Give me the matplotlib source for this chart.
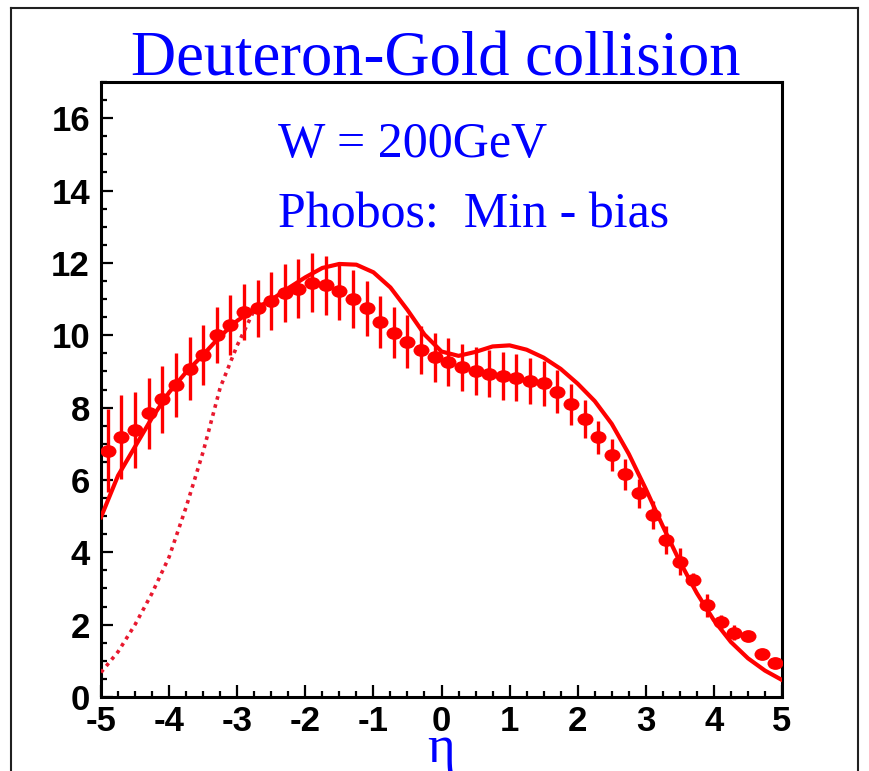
import matplotlib
matplotlib.use("Agg")
import matplotlib.pyplot as plt
from matplotlib.path import Path
from matplotlib.transforms import Affine2D
from matplotlib.lines import Line2D
from matplotlib.ticker import MultipleLocator

plt.rcParams["axes.unicode_minus"] = False

# ---- data ----
eta_data = [-4.9, -4.7, -4.5, -4.3, -4.1, -3.9, -3.7, -3.5, -3.3, -3.1,
            -2.9, -2.7, -2.5, -2.3, -2.1, -1.9, -1.7, -1.5, -1.3, -1.1,
            -0.9, -0.7, -0.5, -0.3, -0.1, 0.1, 0.3, 0.5, 0.7, 0.9,
            1.1, 1.3, 1.5, 1.7, 1.9, 2.1, 2.3, 2.5, 2.7, 2.9,
            3.1, 3.3, 3.5, 3.7, 3.9, 4.1, 4.3, 4.5, 4.7, 4.9]
dndeta_data = [6.81, 7.19, 7.38, 7.84, 8.23, 8.62, 9.08, 9.45, 10.00, 10.28,
               10.64, 10.74, 10.94, 11.17, 11.29, 11.45, 11.38, 11.23, 11.00, 10.74,
               10.36, 10.07, 9.82, 9.59, 9.39, 9.27, 9.11, 9.01, 8.94, 8.88,
               8.82, 8.74, 8.67, 8.44, 8.09, 7.68, 7.18, 6.69, 6.16, 5.63,
               5.03, 4.34, 3.74, 3.23, 2.54, 2.08, 1.78, 1.69, 1.19, 0.93]
dndeta_err = [1.15, 1.17, 1.05, 0.98, 0.93, 0.88, 0.88, 0.82, 0.78, 0.83,
              0.78, 0.80, 0.80, 0.81, 0.82, 0.81, 0.81, 0.80, 0.79, 0.76,
              0.72, 0.71, 0.73, 0.66, 0.67, 0.66, 0.66, 0.67, 0.66, 0.66,
              0.65, 0.64, 0.62, 0.59, 0.56, 0.53, 0.46, 0.43, 0.43, 0.40,
              0.38, 0.39, 0.37, 0.20, 0.32, 0.20, 0.20, 0.10, 0.05, 0.05]

eta_model = [-5.0, -4.75, -4.5, -4.25, -4.0, -3.75, -3.5, -3.25, -3.0, -2.75,
             -2.5, -2.25, -2.0, -1.75, -1.5, -1.25, -1.0, -0.75, -0.5, -0.25,
             0.0, 0.25, 0.5, 0.75, 1.0, 1.25, 1.5, 1.75, 2.0, 2.25,
             2.5, 2.75, 3.0, 3.25, 3.5, 3.75, 4.0, 4.25, 4.5, 4.75, 5.0]
dndeta_model = [4.97, 6.12, 6.92, 7.72, 8.42, 8.98, 9.46, 9.97, 10.40, 10.72,
                10.98, 11.30, 11.60, 11.86, 11.97, 11.95, 11.74, 11.32, 10.70, 10.02,
                9.55, 9.43, 9.54, 9.69, 9.72, 9.60, 9.38, 9.07, 8.66, 8.18,
                7.55, 6.72, 5.75, 4.72, 3.74, 2.87, 2.12, 1.52, 1.07, 0.73, 0.47]

eta_dotted = [-5.0, -4.75, -4.5, -4.25, -4.0, -3.75, -3.5, -3.25, -3.0, -2.85, -2.75]
dndeta_dotted = [0.68, 1.25, 2.0, 2.87, 3.87, 5.25, 6.78, 8.55, 9.72, 10.30, 10.70]

xticks = [-5, -4, -3, -2, -1, 0, 1, 2, 3, 4, 5]
yticks = [0, 2, 4, 6, 8, 10, 12, 14, 16]

title = "Deuteron-Gold collision"
label1 = "W = 200GeV"
label2 = "Phobos:  Min - bias"
xlabel = "\u03b7"

# ---- figure ----
W, H = 870, 771
fig = plt.figure(figsize=(W / 100, H / 100), dpi=100)
ax = fig.add_axes([101 / W, 1 - 697 / H, 681 / W, 615 / H])

red = "#ff0000"
ellipse = Path.unit_circle().transformed(Affine2D().scale(1.0, 0.8))

ax.errorbar(eta_data, dndeta_data, yerr=dndeta_err, fmt="none",
            ecolor=red, elinewidth=2.4, capsize=0, zorder=2)
ax.plot(eta_model, dndeta_model, color=red, lw=3.0, zorder=3,
        solid_joinstyle="round")
ax.plot(eta_dotted, dndeta_dotted, color="#e8182e", lw=2.6,
        linestyle=(0, (1, 1.3)), zorder=3)
ax.plot(eta_data, dndeta_data, linestyle="none", marker=ellipse,
        markersize=11.5, color=red, markeredgewidth=0, zorder=4)

ax.set_xlim(-5, 5)
ax.set_ylim(0, 17)
ax.set_xticks(xticks)
ax.set_yticks(yticks)
ax.xaxis.set_minor_locator(MultipleLocator(0.25))
ax.yaxis.set_minor_locator(MultipleLocator(0.5))
ax.tick_params(which="both", direction="in", top=False, right=False,
               width=1.6, color="black")
ax.tick_params(which="major", length=8.5)
ax.tick_params(which="minor", length=4.5)
ax.tick_params(axis="y", which="major", pad=8)
ax.tick_params(axis="x", which="major", pad=6)
for s in ax.spines.values():
    s.set_linewidth(2.2)

for lab in ax.get_xticklabels() + ax.get_yticklabels():
    lab.set_family("Liberation Sans")
    lab.set_fontweight("bold")
    lab.set_fontsize(25)

serif = "Liberation Serif"
fig.text(436 / W, 1 - 76 / H, title, ha="center", va="baseline",
         family=serif, fontsize=45, color="#0000ff")
ax.text((278 - 101) / 681, (697 - 157) / 615, label1, transform=ax.transAxes,
        ha="left", va="baseline", family=serif, fontsize=36, color="#0000ff")
ax.text((278 - 101) / 681, (697 - 228) / 615, label2, transform=ax.transAxes,
        ha="left", va="baseline", family=serif, fontsize=36, color="#0000ff")
fig.text(441 / W, 1 - 762 / H, xlabel, ha="center", va="baseline",
         family=serif, fontsize=38, color="#0000ff")

# outer frame (left, top, right)
fc = "#202020"
x0, x1, y0 = 11 / W, 858 / W, 1 - 8 / H
fig.add_artist(Line2D([x0, x0], [-0.01, y0], transform=fig.transFigure, color=fc, lw=1.5))
fig.add_artist(Line2D([x0, x1], [y0, y0], transform=fig.transFigure, color=fc, lw=1.5))
fig.add_artist(Line2D([x1, x1], [-0.01, y0], transform=fig.transFigure, color=fc, lw=1.5))

fig.savefig("out.png", dpi=100)
